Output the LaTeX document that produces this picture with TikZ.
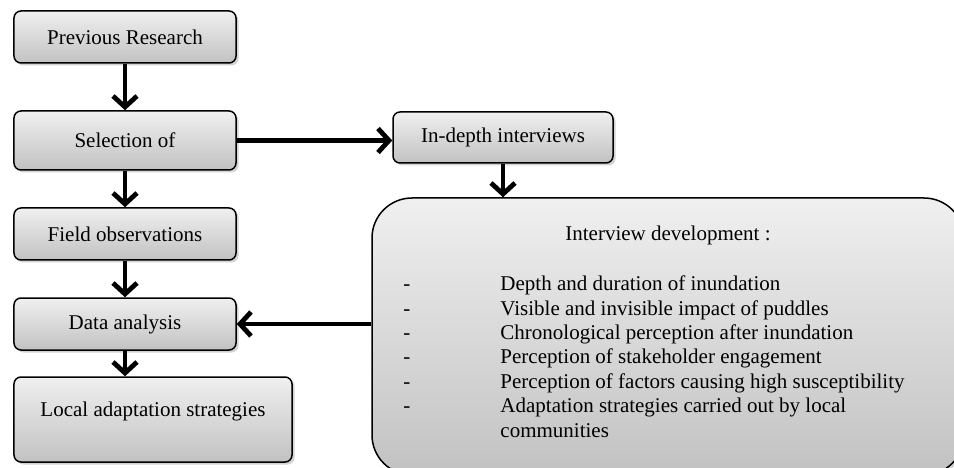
\documentclass[tikz,border=0pt]{standalone}
\usepackage{fontspec}
\setmainfont{Liberation Serif}
\usetikzlibrary{shapes.geometric, arrows.meta, shadows}
\tikzstyle{process} = [rectangle, rounded corners=7pt, minimum width=222pt, minimum height=52pt, text centered, draw=black, line width=1.5pt, top color=gray!12, bottom color=gray!48, drop shadow={shadow xshift=2.5pt, shadow yshift=-2.5pt, opacity=0.35}]
\tikzstyle{bigbox} = [process, rounded corners=40pt, minimum width=592pt, minimum height=277pt]
\tikzstyle{arrow} = [line width=4.8pt, -{Straight Barb[length=11pt, width=24pt]}]

\begin{document}
\begin{tikzpicture}[node distance=94pt, font=\fontsize{21}{24.4}\selectfont]

% page frame, first node sits at the origin
\useasboundingbox (-125pt, 37pt) rectangle ++(954pt, -468pt);

\node (prev) [process] {Previous Research};
\node (select) [process, below of=prev, yshift=-9.5pt, minimum height=59pt] {Selection of};
\node (field) [process, below of=select, yshift=0.5pt] {Field observations};
\node (data) [process, below of=field, yshift=4pt] {Data analysis};
\node (local) [process, below of=data, xshift=28pt, yshift=-1.5pt, minimum width=278pt, minimum height=85pt, text height=14pt, text depth=20pt] {Local adaptation strategies};
\node (indepth) [process, right of=select, xshift=284pt, yshift=3pt, minimum width=220pt, minimum height=51pt] {In-depth interviews};
\node (devbox) [bigbox, below of=indepth, xshift=165pt, yshift=-105pt] {};

% text of the interview box
\node (devhead) at ([yshift=-38.5pt]devbox.north) {Interview development :};
\node (devlist) [anchor=base west, inner sep=0pt] at ([xshift=32pt, yshift=-93.5pt]devbox.north west) {%
  \begin{tabular}[t]{@{}p{97pt}@{}l@{}}
  - & Depth and duration of inundation\\
  - & Visible and invisible impact of puddles\\
  - & Chronological perception after inundation\\
  - & Perception of stakeholder engagement\\
  - & Perception of factors causing high susceptibility\\
  - & Adaptation strategies carried out by local\\
    & communities
  \end{tabular}};

\draw [arrow] (prev) -- (select);
\draw [arrow] (select) -- (field);
\draw [arrow] (field) -- (data);
\draw [arrow] (data) -- (data |- local.north);
\draw [arrow] (select) -- (select -| indepth.west);
\draw [arrow] (indepth) -- (indepth |- devbox.north);
\draw [arrow] (devbox.west |- data) -- (data);

\end{tikzpicture}
\end{document}
